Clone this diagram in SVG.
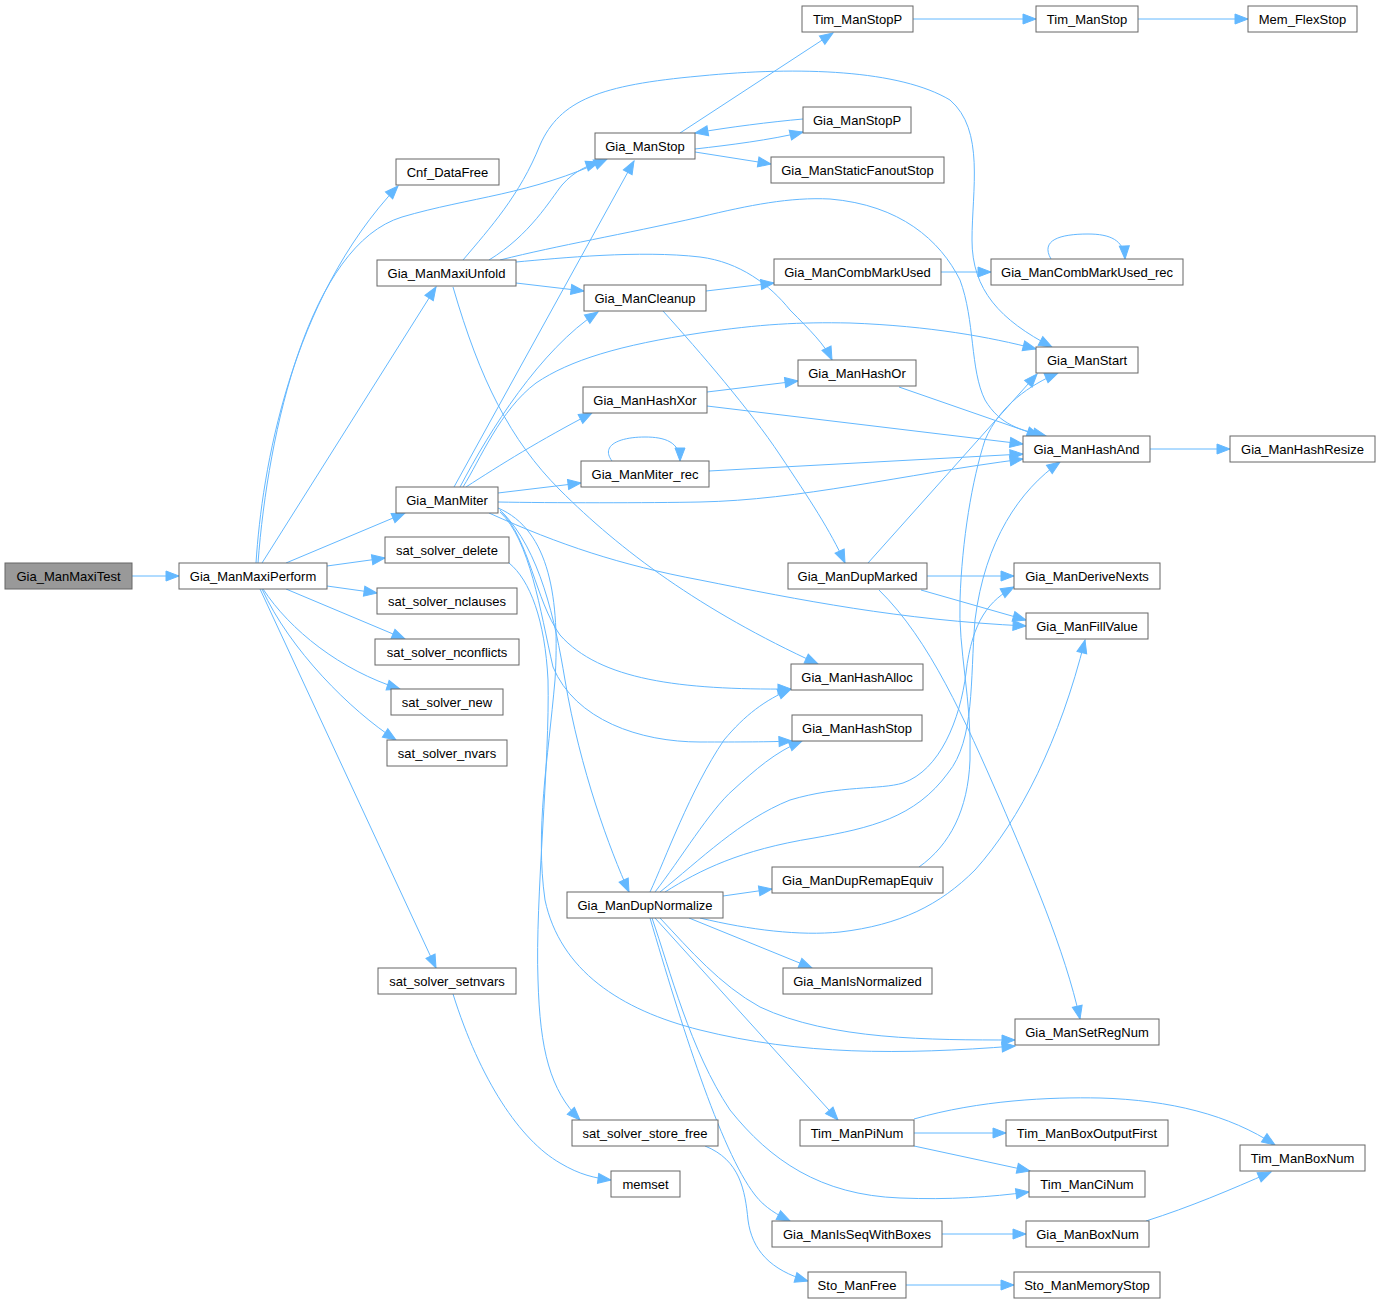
<svg xmlns="http://www.w3.org/2000/svg" width="1386" height="1304" viewBox="0 0 1386 1304">
<style>
.n rect{fill:#ffffff;stroke:#666666;stroke-width:1}
.n.root rect{fill:#999999}
.n text{font-family:"Liberation Sans",Arial,Helvetica,sans-serif;font-size:13px;text-anchor:middle;fill:#000000}
.e path{fill:none;stroke:#63b8ff;stroke-width:1;marker-end:url(#arr)}
</style>
<defs>
<marker id="arr" markerUnits="userSpaceOnUse" markerWidth="15" markerHeight="12" refX="13.5" refY="5.5" orient="auto" overflow="visible">
<path d="M0.5,0.5 L13.5,5.5 L0.5,10.5 z" fill="#63b8ff" stroke="#63b8ff" stroke-width="1"/>
</marker>
</defs>
<rect x="0" y="0" width="1386" height="1304" fill="#ffffff"/>
<g id="edges" class="e">
<path d="M132,576 L179,576"/>
<path d="M256,563 C262,470 290,300 398,186"/>
<path d="M258,563 C268,430 310,245 402,217 C470,197 530,195 607,159"/>
<path d="M262,563 L436,287"/>
<path d="M286,563 L405,513"/>
<path d="M327,566 L385,558"/>
<path d="M327,586 L377,593"/>
<path d="M286,589 L405,639"/>
<path d="M263,589 C290,630 340,670 400,689"/>
<path d="M262,589 C290,650 350,710 396,740"/>
<path d="M260,589 L436,968"/>
<path d="M463,260 C490,228 520,195 540,145 C560,100 600,85 700,76 C800,66 900,70 950,100 C985,130 972,190 972,240 C972,290 1000,320 1052,347"/>
<path d="M489,260 C530,235 550,200 562,185 C575,170 590,165 599,162"/>
<path d="M500,260 C560,245 620,235 700,217 C750,205 790,197 830,199 C900,205 940,240 960,280 C975,320 970,370 985,400 C1000,425 1020,430 1046,436"/>
<path d="M516,283 L584,291"/>
<path d="M516,262 C560,258 640,250 700,257 C740,262 770,285 790,310 C810,330 825,345 832,360"/>
<path d="M453,287 C480,380 510,440 560,490 C620,550 700,610 818,664"/>
<path d="M680,133 L833,33"/>
<path d="M695,149 C730,145 770,140 803,132"/>
<path d="M803,119 C770,122 730,127 695,133"/>
<path d="M695,152 L771,164"/>
<path d="M913,19 L1036,19"/>
<path d="M1138,19 L1248,19"/>
<path d="M706,291 L774,283"/>
<path d="M663,311 C700,352 750,410 780,455 C810,500 830,530 845,563"/>
<path d="M941,272 L991,272"/>
<path d="M1051,259 C1040,240 1060,234 1088,234 C1110,234 1124,240 1125,259"/>
<path d="M707,392 L798,381"/>
<path d="M707,406 L1023,444"/>
<path d="M899,387 L1040,436"/>
<path d="M612,461 C600,445 620,437 645,437 C665,437 680,442 680,461"/>
<path d="M709,471 L1023,454"/>
<path d="M1150,449 L1230,449"/>
<path d="M454,487 L634,161"/>
<path d="M460,487 C490,430 540,350 598,312"/>
<path d="M463,487 C480,460 500,410 536,383 C570,360 620,345 700,333 C760,324 800,322 850,323 C930,326 990,337 1036,349"/>
<path d="M466,487 C500,465 540,440 592,413"/>
<path d="M498,493 L581,483"/>
<path d="M498,502 C550,503 650,503 700,502 C800,500 900,475 1023,459"/>
<path d="M489,513 C560,545 620,565 700,580 C800,600 900,620 1026,626"/>
<path d="M500,510 C530,540 535,600 560,635 C600,680 680,690 791,689"/>
<path d="M500,512 C530,540 540,610 553,667 C575,720 640,742 700,742 C740,742 770,742 792,741"/>
<path d="M502,512 C540,550 555,620 565,680 C580,770 610,850 629,892"/>
<path d="M498,508 C550,530 560,600 555,680 C548,760 535,830 545,900 C560,970 620,1010 700,1030 C800,1055 900,1055 1015,1046"/>
<path d="M509,563 C530,580 545,620 548,680 C550,760 535,900 538,980 C540,1050 550,1090 580,1120"/>
<path d="M868,563 L1037,374"/>
<path d="M927,576 L1014,576"/>
<path d="M921,590 L1026,620"/>
<path d="M879,590 C930,640 965,720 1000,800 C1030,870 1065,950 1080,1019"/>
<path d="M919,867 C950,845 968,810 970,760 C972,700 958,650 960,600 C962,540 972,480 985,440 C1000,405 1030,385 1058,373"/>
<path d="M650,892 C665,860 690,790 724,740 C745,715 765,700 791,689"/>
<path d="M655,892 C680,860 710,810 733,790 C755,770 775,752 802,741"/>
<path d="M660,892 C700,860 740,820 790,800 C840,785 880,790 903,783 C940,770 960,720 966,673 C972,620 990,600 1014,587"/>
<path d="M665,892 C700,870 740,850 814,838 C870,828 915,818 948,773 C975,740 970,680 975,620 C985,540 1020,490 1060,462"/>
<path d="M723,896 L772,889"/>
<path d="M700,918 C750,930 800,936 840,932 C900,925 940,905 975,870 C1020,820 1060,740 1085,640"/>
<path d="M689,918 L812,968"/>
<path d="M660,918 C690,950 720,985 760,1007 C830,1040 930,1040 1015,1040"/>
<path d="M655,918 L838,1120"/>
<path d="M652,918 C670,970 690,1050 730,1110 C770,1160 820,1195 900,1198 C950,1200 990,1197 1029,1192"/>
<path d="M650,918 C680,1020 720,1150 755,1195 C765,1208 778,1215 790,1221"/>
<path d="M914,1133 L1006,1133"/>
<path d="M914,1146 L1030,1171"/>
<path d="M914,1119 C980,1100 1050,1097 1100,1098 C1170,1100 1230,1115 1275,1145"/>
<path d="M942,1234 L1026,1234"/>
<path d="M1146,1221 C1190,1207 1230,1190 1271,1172"/>
<path d="M705,1146 C740,1160 745,1190 748,1220 C752,1250 770,1270 808,1281"/>
<path d="M906,1285 L1014,1285"/>
<path d="M453,994 C480,1080 520,1140 560,1163 C580,1175 595,1178 611,1180"/>
</g>
<g id="n1" class="n root"><rect x="5" y="563" width="127" height="26"/><text x="68.5" y="580.5">Gia_ManMaxiTest</text></g>
<g id="n2" class="n"><rect x="179" y="563" width="148" height="26"/><text x="253" y="580.5">Gia_ManMaxiPerform</text></g>
<g id="n3" class="n"><rect x="396" y="159" width="103" height="26"/><text x="447.5" y="176.5">Cnf_DataFree</text></g>
<g id="n4" class="n"><rect x="377" y="260" width="139" height="26"/><text x="446.5" y="277.5">Gia_ManMaxiUnfold</text></g>
<g id="n5" class="n"><rect x="595" y="133" width="100" height="26"/><text x="645" y="150.5">Gia_ManStop</text></g>
<g id="n6" class="n"><rect x="584" y="285" width="122" height="26"/><text x="645" y="302.5">Gia_ManCleanup</text></g>
<g id="n7" class="n"><rect x="583" y="387" width="124" height="26"/><text x="645" y="404.5">Gia_ManHashXor</text></g>
<g id="n8" class="n"><rect x="396" y="487" width="102" height="26"/><text x="447" y="504.5">Gia_ManMiter</text></g>
<g id="n9" class="n"><rect x="581" y="461" width="128" height="26"/><text x="645" y="478.5">Gia_ManMiter_rec</text></g>
<g id="n10" class="n"><rect x="385" y="537" width="124" height="26"/><text x="447" y="554.5">sat_solver_delete</text></g>
<g id="n11" class="n"><rect x="377" y="588" width="140" height="26"/><text x="447" y="605.5">sat_solver_nclauses</text></g>
<g id="n12" class="n"><rect x="375" y="639" width="144" height="26"/><text x="447" y="656.5">sat_solver_nconflicts</text></g>
<g id="n13" class="n"><rect x="391" y="689" width="112" height="26"/><text x="447" y="706.5">sat_solver_new</text></g>
<g id="n14" class="n"><rect x="387" y="740" width="120" height="26"/><text x="447" y="757.5">sat_solver_nvars</text></g>
<g id="n15" class="n"><rect x="378" y="968" width="138" height="26"/><text x="447" y="985.5">sat_solver_setnvars</text></g>
<g id="n16" class="n"><rect x="567" y="892" width="156" height="26"/><text x="645" y="909.5">Gia_ManDupNormalize</text></g>
<g id="n17" class="n"><rect x="572" y="1120" width="146" height="26"/><text x="645" y="1137.5">sat_solver_store_free</text></g>
<g id="n18" class="n"><rect x="611" y="1171" width="69" height="26"/><text x="645.5" y="1188.5">memset</text></g>
<g id="n19" class="n"><rect x="802" y="6" width="111" height="26"/><text x="857.5" y="23.5">Tim_ManStopP</text></g>
<g id="n20" class="n"><rect x="1036" y="6" width="102" height="26"/><text x="1087" y="23.5">Tim_ManStop</text></g>
<g id="n21" class="n"><rect x="1248" y="6" width="109" height="26"/><text x="1302.5" y="23.5">Mem_FlexStop</text></g>
<g id="n22" class="n"><rect x="803" y="107" width="108" height="26"/><text x="857" y="124.5">Gia_ManStopP</text></g>
<g id="n23" class="n"><rect x="771" y="157" width="173" height="26"/><text x="857.5" y="174.5">Gia_ManStaticFanoutStop</text></g>
<g id="n24" class="n"><rect x="774" y="259" width="167" height="26"/><text x="857.5" y="276.5">Gia_ManCombMarkUsed</text></g>
<g id="n25" class="n"><rect x="991" y="259" width="192" height="26"/><text x="1087" y="276.5">Gia_ManCombMarkUsed_rec</text></g>
<g id="n26" class="n"><rect x="1036" y="347" width="102" height="26"/><text x="1087" y="364.5">Gia_ManStart</text></g>
<g id="n27" class="n"><rect x="798" y="360" width="118" height="26"/><text x="857" y="377.5">Gia_ManHashOr</text></g>
<g id="n28" class="n"><rect x="1023" y="436" width="127" height="26"/><text x="1086.5" y="453.5">Gia_ManHashAnd</text></g>
<g id="n29" class="n"><rect x="1230" y="436" width="145" height="26"/><text x="1302.5" y="453.5">Gia_ManHashResize</text></g>
<g id="n30" class="n"><rect x="788" y="563" width="139" height="26"/><text x="857.5" y="580.5">Gia_ManDupMarked</text></g>
<g id="n31" class="n"><rect x="1014" y="563" width="146" height="26"/><text x="1087" y="580.5">Gia_ManDeriveNexts</text></g>
<g id="n32" class="n"><rect x="1026" y="613" width="122" height="26"/><text x="1087" y="630.5">Gia_ManFillValue</text></g>
<g id="n33" class="n"><rect x="791" y="664" width="132" height="26"/><text x="857" y="681.5">Gia_ManHashAlloc</text></g>
<g id="n34" class="n"><rect x="792" y="715" width="130" height="26"/><text x="857" y="732.5">Gia_ManHashStop</text></g>
<g id="n35" class="n"><rect x="772" y="867" width="171" height="26"/><text x="857.5" y="884.5">Gia_ManDupRemapEquiv</text></g>
<g id="n36" class="n"><rect x="783" y="968" width="149" height="26"/><text x="857.5" y="985.5">Gia_ManIsNormalized</text></g>
<g id="n37" class="n"><rect x="1015" y="1019" width="144" height="26"/><text x="1087" y="1036.5">Gia_ManSetRegNum</text></g>
<g id="n38" class="n"><rect x="800" y="1120" width="114" height="26"/><text x="857" y="1137.5">Tim_ManPiNum</text></g>
<g id="n39" class="n"><rect x="1006" y="1120" width="162" height="26"/><text x="1087" y="1137.5">Tim_ManBoxOutputFirst</text></g>
<g id="n40" class="n"><rect x="1240" y="1145" width="125" height="26"/><text x="1302.5" y="1162.5">Tim_ManBoxNum</text></g>
<g id="n41" class="n"><rect x="1029" y="1171" width="116" height="26"/><text x="1087" y="1188.5">Tim_ManCiNum</text></g>
<g id="n42" class="n"><rect x="772" y="1221" width="170" height="26"/><text x="857" y="1238.5">Gia_ManIsSeqWithBoxes</text></g>
<g id="n43" class="n"><rect x="1026" y="1221" width="123" height="26"/><text x="1087.5" y="1238.5">Gia_ManBoxNum</text></g>
<g id="n44" class="n"><rect x="808" y="1272" width="98" height="26"/><text x="857" y="1289.5">Sto_ManFree</text></g>
<g id="n45" class="n"><rect x="1014" y="1272" width="146" height="26"/><text x="1087" y="1289.5">Sto_ManMemoryStop</text></g>
</svg>
